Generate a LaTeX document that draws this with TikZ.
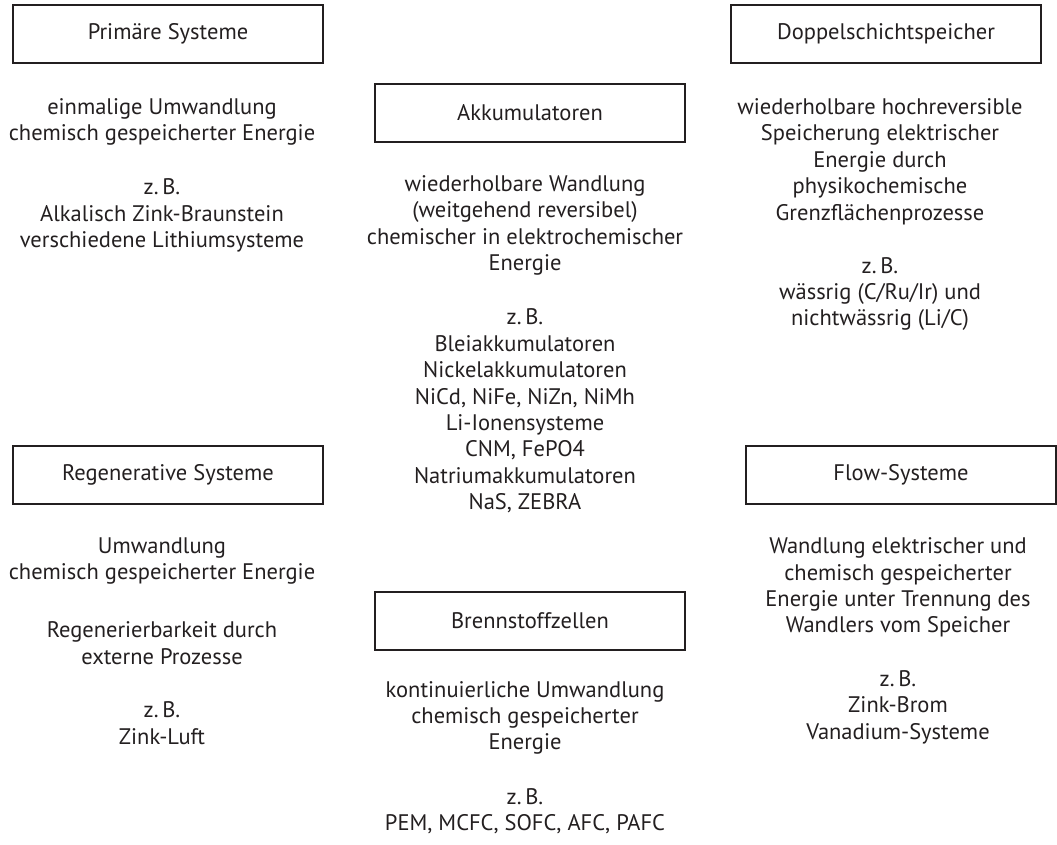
\documentclass[tikz,border=0pt]{standalone}
\usepackage{fontspec}
\setmainfont{PT Sans}
\definecolor{ink}{HTML}{231F20}
\begin{document}
\begin{tikzpicture}[x=1pt,y=-1pt,
  catbox/.style={draw=ink,line width=1.3pt,minimum width=310pt,minimum height=58pt,
    inner sep=0pt,text=ink,font=\fontsize{22.5}{26.4}\selectfont},
  desc/.style={align=center,inner sep=0pt,text=ink,font=\fontsize{22.5}{26.4}\selectfont}]
\useasboundingbox (0,0) rectangle (1057,845);

% left column, top
\node[catbox] (prim) at (168,34) {Primäre Systeme};
\node[desc] (primdesc) at (162,122) {einmalige Umwandlung\\chemisch gespeicherter Energie};
\node[desc] (primex) at (162,215.5) {z.\,B.\\Alkalisch Zink-Braunstein\\verschiedene Lithiumsysteme};

% middle column, top
\node[catbox] (akku) at (530,113) {Akkumulatoren};
\node[desc] (akkudesc) at (525,225.5) {wiederholbare Wandlung\\(weitgehend reversibel)\\chemischer in elektrochemischer\\Energie};
\node[desc] (akkuex) at (525,411) {z.\,B.\\Bleiakkumulatoren\\Nickelakkumulatoren\\NiCd, NiFe, NiZn, NiMh\\Li-Ionensysteme\\CNM, FePO4\\Natriumakkumulatoren\\NaS, ZEBRA};

% right column, top
\node[catbox] (dopp) at (886,34) {Doppelschichtspeicher};
\node[desc] (doppdesc) at (880,161.5) {wiederholbare hochreversible\\Speicherung elektrischer\\Energie durch\\physikochemische\\Grenzflächenprozesse};
\node[desc] (doppex) at (880,294) {z.\,B.\\wässrig (C/Ru/Ir) und\\nichtwässrig (Li/C)};

% left column, bottom
\node[catbox] (regen) at (168,475) {Regenerative Systeme};
\node[desc] (regendesc) at (162,561) {Umwandlung\\chemisch gespeicherter Energie};
\node[desc] (regenreg) at (162,643) {Regenerierbarkeit durch\\externe Prozesse};
\node[desc] (regenex) at (162,723) {z.\,B.\\Zink-Luft};

% middle column, bottom
\node[catbox] (brenn) at (530,621) {Brennstoffzellen};
\node[desc] (brenndesc) at (525,718) {kontinuierliche Umwandlung\\chemisch gespeicherter\\Energie};
\node[desc] (brennex) at (525,811) {z.\,B.\\PEM, MCFC, SOFC, AFC, PAFC};

% right column, bottom
\node[catbox] (flow) at (901,475) {Flow-Systeme};
\node[desc] (flowdesc) at (898,587.5) {Wandlung elektrischer und\\chemisch gespeicherter\\Energie unter Trennung des\\Wandlers vom Speicher};
\node[desc] (flowex) at (898,707) {z.\,B.\\Zink-Brom\\Vanadium-Systeme};
\end{tikzpicture}
\end{document}
